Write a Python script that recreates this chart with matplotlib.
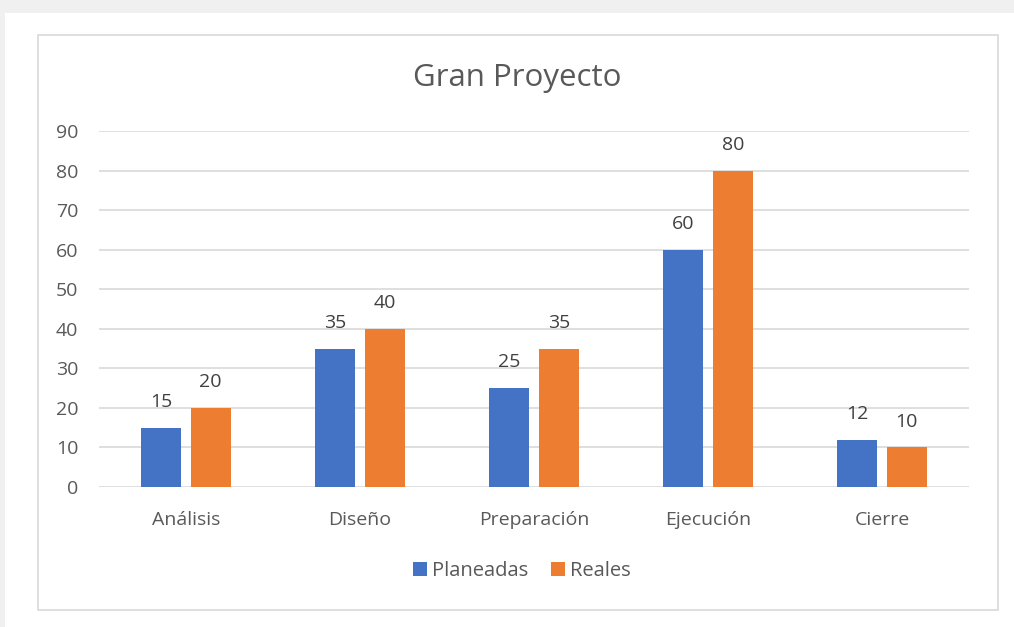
import matplotlib
matplotlib.use("Agg")
import matplotlib.pyplot as plt
import numpy as np
from matplotlib.patches import Rectangle

plt.rcParams["font.family"] = ["Open Sans", "DejaVu Sans"]

categories = ["Análisis", "Diseño", "Preparación", "Ejecución", "Cierre"]
planeadas = [15, 35, 25, 60, 12]
reales = [20, 40, 35, 80, 10]
yticks = [0, 10, 20, 30, 40, 50, 60, 70, 80, 90]

blue = "#4472C4"
orange = "#ED7D31"
text_c = "#595959"

W, H = 1014, 627
fig = plt.figure(figsize=(W / 100, H / 100), dpi=100)
fig.patch.set_facecolor("white")

# screenshot frame bits
fig.add_artist(Rectangle((0, 1 - 13 / H), 1, 13 / H, transform=fig.transFigure,
                         facecolor="#f0f0f0", edgecolor="none", zorder=-10))
fig.add_artist(Rectangle((0, 0), 5 / W, 1, transform=fig.transFigure,
                         facecolor="#f0f0f0", edgecolor="none", zorder=-10))
fig.add_artist(Rectangle((38 / W, 1 - 610 / H), 960 / W, 575 / H, transform=fig.transFigure,
                         facecolor="white", edgecolor="#d9d9d9", linewidth=1.2, zorder=-9))

ax = fig.add_axes([99 / W, 1 - 487 / H, 870 / W, 356 / H])
ax.set_facecolor("none")
x = np.arange(len(categories))
w = 0.23
off = 0.142
b1 = ax.bar(x - off, planeadas, w, color=blue, label="Planeadas", zorder=3)
b2 = ax.bar(x + off, reales, w, color=orange, label="Reales", zorder=3)

for bars in (b1, b2):
    ax.bar_label(bars, padding=12, fontsize=14, color="#404040")

ax.set_xlim(-0.5, len(categories) - 0.5)
ax.set_ylim(0, 90)
ax.set_yticks(yticks)
ax.set_xticks(x)
ax.set_xticklabels(categories)
ax.tick_params(axis="both", length=0, labelsize=14, labelcolor=text_c)
ax.tick_params(axis="y", pad=15)
ax.tick_params(axis="x", pad=17)
ax.grid(axis="y", color="#d9d9d9", linewidth=1.2, zorder=0)
for s in ax.spines.values():
    s.set_visible(False)

fig.text(517 / W, 1 - 78 / H, "Gran Proyecto", ha="center", va="center",
         fontsize=22.5, color=text_c)

fig.legend(handles=[b1, b2], loc="center", bbox_to_anchor=(522 / W, 1 - 571 / H),
           ncol=2, frameon=False, fontsize=14.5, labelcolor=text_c,
           handlelength=0.7, handleheight=0.7, handletextpad=0.25, columnspacing=1.1)

fig.savefig("out.png", dpi=100)
